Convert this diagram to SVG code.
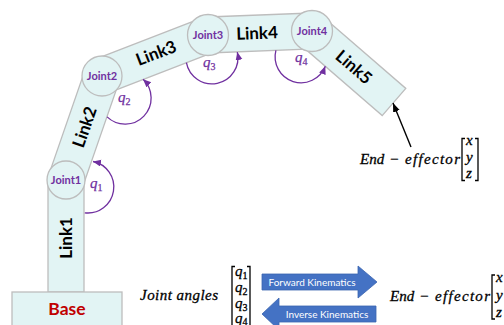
<svg xmlns="http://www.w3.org/2000/svg" width="504" height="325" viewBox="0 0 504 325">
  <style>
    .link { fill: #e2f4f4; stroke: #bdbdbd; stroke-width: 1.3; }
    .joint { fill: #e2f4f4; stroke: #bdbdbd; stroke-width: 1.3; }
    .jlabel { font-family: Lato, "Open Sans", sans-serif; font-weight: bold; font-size: 11px; fill: #7030a0; text-anchor: middle; }
    .llabel { font-family: Lato, "Open Sans", sans-serif; font-weight: bold; font-size: 17px; fill: #000; text-anchor: middle; }
    .angle { fill: none; stroke: #7030a0; stroke-width: 1.3; }
    .q { font-family: "Liberation Serif", serif; font-style: italic; font-size: 15px; fill: #7030a0; stroke: #7030a0; stroke-width: 0.25; }
    .sub { font-style: normal; font-size: 10px; }
    .math { font-family: "Liberation Serif", serif; font-style: italic; font-size: 15px; fill: #000; stroke: #000; stroke-width: 0.3; }
    .mq { font-family: "Liberation Serif", serif; font-style: italic; font-size: 15px; fill: #000; stroke: #000; stroke-width: 0.3; }
    .bracket { fill: none; stroke: #000; stroke-width: 1.3; }
    .block { fill: #4472c4; stroke: #3b65b0; stroke-width: 0.8; }
    .btext { font-family: Lato, "Open Sans", sans-serif; font-size: 10px; fill: #fff; text-anchor: middle; }
  </style>
  <defs>
    <marker id="purpleHead" markerUnits="userSpaceOnUse" markerWidth="9" markerHeight="8" refX="8" refY="3.5" orient="auto">
      <path d="M0,0 L8,3.5 L0,7 z" fill="#7030a0"/>
    </marker>
    <marker id="blackHead" markerUnits="userSpaceOnUse" markerWidth="10" markerHeight="8" refX="9" refY="3.5" orient="auto">
      <path d="M0,0 L9,3.5 L0,7 z" fill="#000"/>
    </marker>
  </defs>

  <!-- robot arm links -->
  <g id="link1"><rect class="link" x="48" y="180" width="36" height="112"/></g>
  <g id="link2"><polygon class="link" points="49,174.1 85,70.1 119,81.9 83,185.9"/></g>
  <g id="link3"><polygon class="link" points="95.5,59.2 201.5,18.2 214.5,51.8 108.5,92.8"/></g>
  <g id="link4"><polygon class="link" points="207.3,17 311.3,13 312.7,49 208.7,53"/></g>
  <g id="link5"><polygon class="link" points="323.8,17.4 405.8,88.4 382.2,115.6 300.2,44.6"/></g>

  <!-- base -->
  <g id="base">
    <rect class="link" x="12" y="292" width="110" height="40"/>
    <text x="67" y="315" font-family="Lato, 'Open Sans', sans-serif" font-weight="bold" font-size="17.5" fill="#c00000" text-anchor="middle">Base</text>
  </g>

  <!-- joints -->
  <g id="joint1"><circle class="joint" cx="66" cy="180" r="19"/><text class="jlabel" x="66" y="184">Joint1</text></g>
  <g id="joint2"><circle class="joint" cx="102" cy="76" r="20"/><text class="jlabel" x="102" y="80">Joint2</text></g>
  <g id="joint3"><circle class="joint" cx="208" cy="35" r="20.5"/><text class="jlabel" x="208" y="39">Joint3</text></g>
  <g id="joint4"><circle class="joint" cx="312" cy="31" r="20.5"/><text class="jlabel" x="312" y="35">Joint4</text></g>

  <!-- link labels -->
  <text class="llabel" transform="translate(66,238) rotate(-90)" y="6">Link1</text>
  <text class="llabel" transform="translate(84.5,127) rotate(-70.9)" y="6">Link2</text>
  <text class="llabel" transform="translate(156,53) rotate(-21.1)" y="6">Link3</text>
  <text class="llabel" transform="translate(257,33) rotate(-2.2)" y="6">Link4</text>
  <text class="llabel" transform="translate(354,67) rotate(40.9)" y="6">Link5</text>

  <!-- connectors: joint angle arcs and end-effector pointer -->
  <g id="connectors">
    <path class="angle" d="M84.8,212.8 A26,26 0 0 0 93,161.5" marker-end="url(#purpleHead)"/>
    <path class="angle" d="M107.1,116.9 A26,26 0 0 0 143.1,79.3" marker-end="url(#purpleHead)"/>
    <path class="angle" d="M186.4,62.7 A26,26 0 1 0 237.3,52.1" marker-end="url(#purpleHead)"/>
    <path class="angle" d="M275.9,50.4 A26,26 0 0 0 325.3,66.3" marker-end="url(#purpleHead)"/>
    <line x1="411" y1="147" x2="393" y2="103" stroke="#000" stroke-width="1.4" marker-end="url(#blackHead)"/>
  </g>

  <!-- angle symbols -->
  <text class="q" x="90" y="188">q<tspan class="sub" dy="3">1</tspan></text>
  <text class="q" x="118" y="102">q<tspan class="sub" dy="3">2</tspan></text>
  <text class="q" x="203" y="67">q<tspan class="sub" dy="3">3</tspan></text>
  <text class="q" x="295" y="62">q<tspan class="sub" dy="3">4</tspan></text>

  <!-- end-effector position vector -->
  <g id="end-effector-label">
    <text class="math" x="360" y="164">End</text>
    <text class="math" x="389" y="164" font-style="normal">−</text>
    <text class="math" x="405" y="164" textLength="55">effector</text>
    <path class="bracket" d="M465,138.5 H462 V180.5 H465"/>
    <path class="bracket" d="M475,138.5 H478 V180.5 H475"/>
    <text class="mq" x="466" y="145">x</text>
    <text class="mq" x="466" y="162">y</text>
    <text class="mq" x="466" y="178">z</text>
  </g>

  <!-- joint angle vector -->
  <g id="joint-angles">
    <text class="math" x="140" y="300" textLength="78">Joint angles</text>
    <path class="bracket" d="M235,266.5 H232 V330 H235"/>
    <path class="bracket" d="M247,266.5 H250 V330 H247"/>
    <text class="mq" x="235" y="275.5">q<tspan class="sub" dy="3">1</tspan></text>
    <text class="mq" x="235" y="291.5">q<tspan class="sub" dy="3">2</tspan></text>
    <text class="mq" x="235" y="307.5">q<tspan class="sub" dy="3">3</tspan></text>
    <text class="mq" x="235" y="322.5">q<tspan class="sub" dy="2">4</tspan></text>
  </g>

  <!-- kinematics block arrows -->
  <g id="forward-kinematics">
    <polygon class="block" points="262,274 358,274 358,266 377,282 358,298 358,290 262,290"/>
    <text class="btext" x="312" y="285.5">Forward Kinematics</text>
  </g>
  <g id="inverse-kinematics">
    <polygon class="block" points="376,306 279,306 279,298 262,314 279,330 279,322 376,322"/>
    <text class="btext" x="327" y="317.5">Inverse Kinematics</text>
  </g>

  <!-- end-effector vector, lower -->
  <g id="end-effector-vector">
    <text class="math" x="390" y="301">End</text>
    <text class="math" x="419" y="301" font-style="normal">−</text>
    <text class="math" x="435" y="301" textLength="55">effector</text>
    <path class="bracket" d="M495,275 H492 V319 H495"/>
    <text class="mq" x="496" y="282">x</text>
    <text class="mq" x="496" y="300">y</text>
    <text class="mq" x="496" y="317">z</text>
  </g>
</svg>
